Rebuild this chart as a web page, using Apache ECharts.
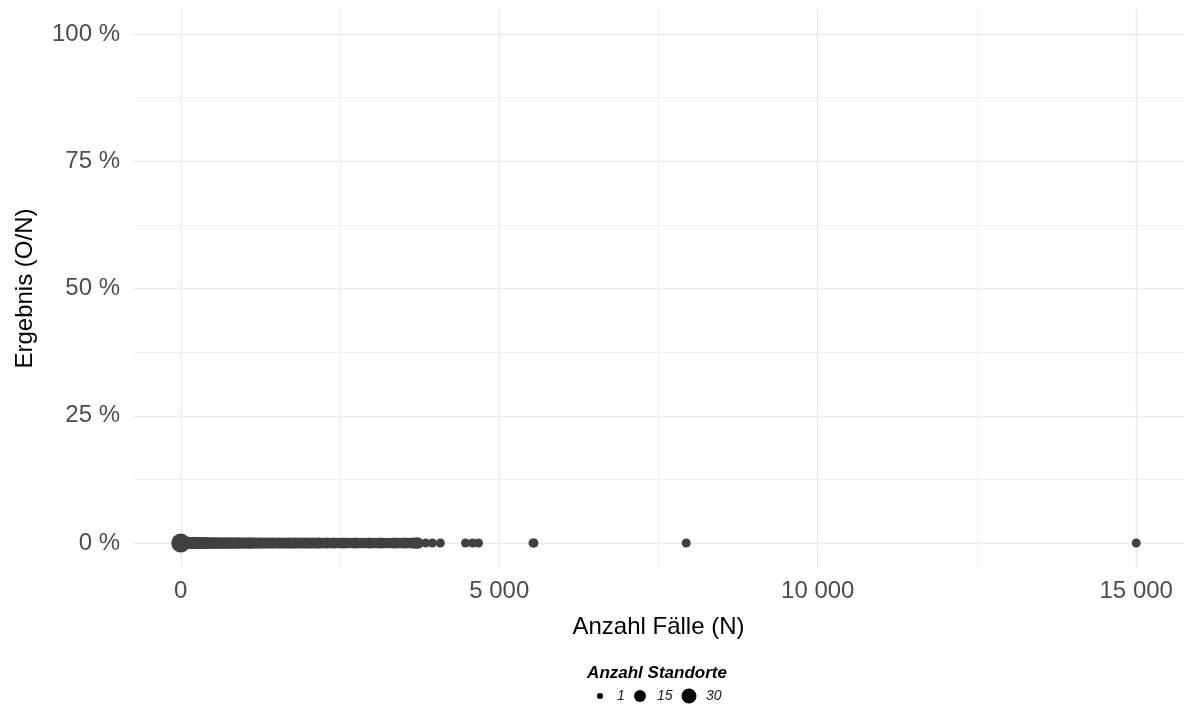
<!DOCTYPE html>
<html>
<head>
<meta charset="utf-8">
<script src="https://cdn.jsdelivr.net/npm/echarts@6/dist/echarts.min.js"></script>
<style>html,body{margin:0;padding:0;background:#fff;}#c{width:1186px;height:709px;}</style>
</head>
<body>
<div id="c"></div>
<script>
// Anzahl Fälle (N)
var faelle = [0,
  60, 95, 130, 160, 185, 210, 240, 265, 290, 320, 345, 370, 400, 425, 450, 480, 505, 530, 560, 590,
  615, 640, 670, 700, 725, 750, 780, 810, 840, 865, 890, 920, 950, 980,
  1010, 1040, 1075, 1110, 1140, 1170, 1205, 1240, 1270, 1300, 1335, 1370, 1400, 1430, 1465, 1500,
  1530, 1565, 1600, 1630, 1660, 1695, 1730, 1760, 1790, 1825, 1860, 1895, 1930, 1960, 1995, 2030,
  2065, 2100, 2140, 2175, 2210, 2250, 2285, 2320, 2360, 2400, 2440, 2480, 2520, 2560, 2600, 2645,
  2690, 2735, 2780, 2825, 2870, 2915, 2960, 3005, 3050, 3095, 3140, 3185, 3230, 3275, 3320, 3360,
  3400, 3440, 3480, 3520, 3560, 3600, 3640, 3680, 3720,
  3843, 3950, 4075, 4470, 4580, 4675, 5530, 5545, 7935, 15000];
// Anzahl Standorte per point
var standorte = [45,
  5, 6, 4, 5, 4, 6, 4, 5, 4, 5, 4, 4, 5, 3, 4, 3, 4, 3, 4, 3,
  4, 3, 3, 4, 3, 3, 4, 3, 3, 3, 4, 3, 3, 3,
  3, 3, 4, 3, 3, 3, 3, 3, 3, 2, 3, 3, 2, 3, 3, 2,
  3, 3, 2, 3, 2, 3, 3, 2, 3, 3, 2, 3, 2, 3, 3, 2,
  3, 2, 3, 3, 2, 2, 3, 2, 2, 3, 2, 2, 2, 3, 2, 2,
  2, 3, 2, 2, 2, 2, 3, 2, 2, 2, 3, 2, 2, 2, 2, 3,
  2, 2, 2, 3, 2, 2, 3, 3, 4,
  1, 1, 1, 1, 1, 1, 1, 1, 1, 1];
// Ergebnis (O/N) in %
var ergebnis = faelle.map(function () { return 0; });

var xMajor = [0, 5000, 10000, 15000];
var xMinor = [2500, 7500, 12500];
var yMajor = [0, 25, 50, 75, 100];
var yMinor = [12.5, 37.5, 62.5, 87.5];
var legendBreaks = [1, 15, 30];

var points = faelle.map(function (x, i) { return [x, ergebnis[i], standorte[i]]; });
var nMax = Math.max.apply(null, standorte);

function fmtThousands(v) {
  return String(v).replace(/\B(?=(\d{3})+(?!\d))/g, ' ');
}

var gridLines = [];
xMajor.forEach(function (v) { gridLines.push({ xAxis: v, lineStyle: { width: 1.4 } }); });
xMinor.forEach(function (v) { gridLines.push({ xAxis: v, lineStyle: { width: 0.8 } }); });
yMajor.forEach(function (v) { gridLines.push({ yAxis: v, lineStyle: { width: 1.4 } }); });
yMinor.forEach(function (v) { gridLines.push({ yAxis: v, lineStyle: { width: 0.8 } }); });

var FONT = 'Liberation Sans, Arial, Helvetica, sans-serif';

var chart = echarts.init(document.getElementById('c'), null, { renderer: 'canvas' });
var legendItems = [];
var lx = [600, 640, 689];
var lr = [3, 6, 7.5];
var tx = [617, 657, 706];
legendBreaks.forEach(function (b, i) {
  legendItems.push({ type: 'circle', shape: { cx: lx[i], cy: 696, r: lr[i] }, style: { fill: '#000' } });
  legendItems.push({ type: 'text', style: { x: tx[i], y: 696, text: String(b), font: 'italic 14px ' + FONT, fill: '#1a1a1a', textAlign: 'left', textVerticalAlign: 'middle' } });
});
legendItems.push({ type: 'text', style: { x: 657, y: 673, text: 'Anzahl Standorte', font: 'italic bold 17px ' + FONT, fill: '#000', textAlign: 'center', textVerticalAlign: 'middle' } });

chart.setOption({
  backgroundColor: '#ffffff',
  animation: false,
  textStyle: { fontFamily: FONT },
  grid: { left: 133, right: 2, top: 8.5, bottom: 140.5, outerBoundsMode: 'none', containLabel: false },
  xAxis: {
    type: 'value', min: -750, max: 15750, interval: 250,
    axisLine: { show: false }, axisTick: { show: false }, splitLine: { show: false },
    axisLabel: {
      margin: 11, fontSize: 24, color: '#4d4d4d', fontFamily: FONT,
      formatter: function (v) { return (Math.abs(v % 5000) < 1e-6 && v >= 0) ? fmtThousands(v) : ''; }
    },
    name: 'Anzahl Fälle (N)', nameLocation: 'middle', nameGap: 47,
    nameTextStyle: { fontSize: 24, color: '#000', fontFamily: FONT }
  },
  yAxis: {
    type: 'value', min: -5, max: 105, interval: 5,
    axisLine: { show: false }, axisTick: { show: false }, splitLine: { show: false },
    axisLabel: {
      margin: 13, fontSize: 24, color: '#4d4d4d', fontFamily: FONT, padding: [4, 0, 0, 0],
      formatter: function (v) { return (Math.abs(v % 25) < 1e-6 && v >= 0) ? (v + ' %') : ''; }
    },
    name: 'Ergebnis (O/N)', nameLocation: 'middle', nameGap: 96,
    nameTextStyle: { fontSize: 24, color: '#000', fontFamily: FONT }
  },
  series: [
    {
      type: 'scatter', data: [], z: 1, silent: true,
      markLine: {
        z: 1,
        silent: true, symbol: ['none', 'none'], label: { show: false },
        lineStyle: { color: '#ebebeb', type: 'solid' },
        emphasis: { disabled: true },
        data: gridLines
      }
    },
    {
      type: 'scatter', z: 10,
      data: points,
      symbolSize: function (d) { return 9 + 10 * Math.sqrt((d[2] - 1) / (nMax - 1)); },
      itemStyle: { color: '#404040', opacity: 1 }
    }
  ],
  graphic: legendItems
});
</script>
</body>
</html>
